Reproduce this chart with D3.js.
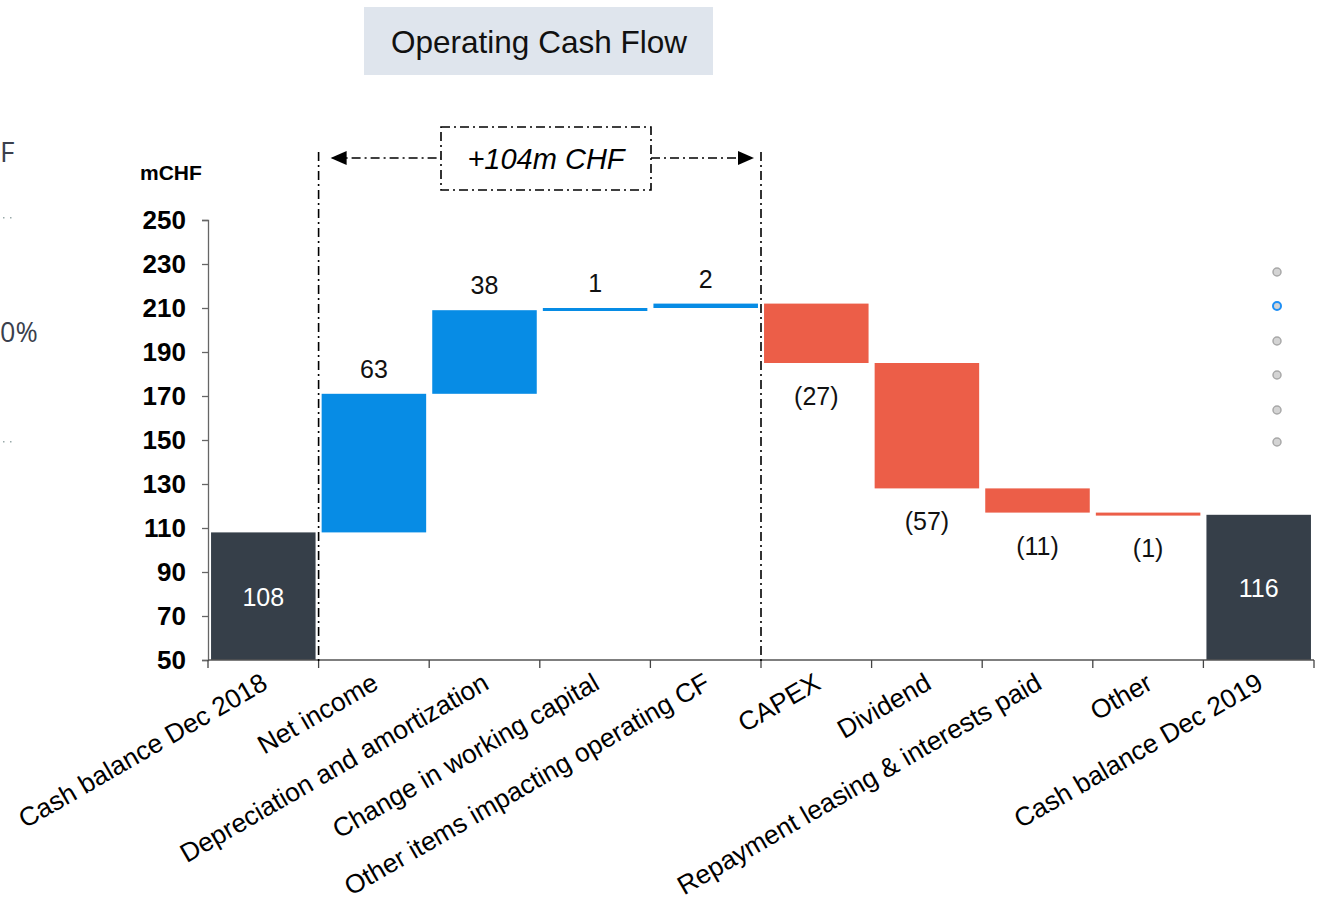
<!DOCTYPE html>
<html><head><meta charset="utf-8">
<script src="https://cdn.jsdelivr.net/npm/d3@7"></script>
<style>
html,body{margin:0;padding:0;background:#fff;}
svg{display:block;font-family:"Liberation Sans",Arial,sans-serif;}
</style></head>
<body>
<svg id="c" width="1317" height="907"></svg>
<script>
const categories = ["Cash balance Dec 2018","Net income","Depreciation and amortization","Change in working capital","Other items impacting operating CF","CAPEX","Dividend","Repayment leasing & interests paid","Other","Cash balance Dec 2019"];
const values = [108, 63, 38, 1, 2, -27, -57, -11, -1, 116];
const kinds = ["total","delta","delta","delta","delta","delta","delta","delta","delta","total"];
const yTicks = [50,70,90,110,130,150,170,190,210,230,250];
const title = "Operating Cash Flow";
const unitLabel = "mCHF";
const bracketLabel = "+104m CHF";
const bracketFrom = "Net income", bracketTo = "Other items impacting operating CF";
const sideTexts = ["F", "0%"];

(function(){
const svg = d3.select("#c");
const pL = 208, pR = 1314, pT = 220, pB = 660;

const x = d3.scaleBand().domain(categories).range([pL, pR]).paddingInner(0.055).paddingOuter(0.0275);
const y = d3.scaleLinear().domain([50, 250]).range([pB, pT]);
const step = x.step();
const edge = c => x(c) - step * 0.0275;

let run = 0;
const bars = categories.map((c, i) => {
  const v = values[i];
  let y0, y1;
  if (kinds[i] === "total") { y0 = 50; y1 = v; run = v; }
  else { y0 = run; y1 = run + v; run = y1; }
  return {c, v, kind: kinds[i], lo: Math.min(y0, y1), hi: Math.max(y0, y1)};
});
const colors = {total: "#363f49", pos: "#078ce5", neg: "#ec5e48"};

const tb = svg.append("g");
tb.append("rect").attr("x", 364).attr("y", 7).attr("width", 349).attr("height", 68).attr("fill", "#dfe5ed");
tb.append("text").attr("x", 539).attr("y", 53).attr("text-anchor", "middle").attr("font-size", 31.5).attr("fill", "#111").text(title);

svg.append("text").attr("x", 0).attr("y", 162).attr("font-family", "Open Sans, sans-serif").attr("font-size", 28).attr("fill", "#3a3f4d").text(sideTexts[0]);
svg.append("text").attr("x", 0).attr("y", 342).attr("font-family", "Open Sans, sans-serif").attr("font-size", 27).attr("fill", "#3a3f4d").text(sideTexts[1]);
[217, 441].forEach(yy => {
  [3, 10].forEach(xx => svg.append("rect").attr("x", xx).attr("y", yy).attr("width", 1.5).attr("height", 1.5).attr("fill", "#9aa"));
});

[272, 306, 341, 375, 410, 442].forEach((cy, i) => {
  svg.append("circle").attr("cx", 1277).attr("cy", cy).attr("r", 4)
    .attr("fill", "#d4d4d4").attr("stroke", i === 1 ? "#1e8ff5" : "#a8a8a8").attr("stroke-width", i === 1 ? 2 : 1.5);
});

const ya = svg.append("g").attr("transform", `translate(${pL},0)`)
  .call(d3.axisLeft(y).tickValues(yTicks).tickSize(6).tickPadding(16).tickFormat(d3.format("d")));
ya.select(".domain").attr("stroke", "#666").attr("stroke-width", 1.3);
ya.selectAll(".tick line").attr("stroke", "#666").attr("stroke-width", 1.3);
ya.selectAll(".tick text").attr("font-size", 26).attr("font-weight", "bold").attr("fill", "#000").attr("font-family", "Liberation Sans, Arial, sans-serif");
svg.append("text").attr("x", 140).attr("y", 180).attr("font-size", 21).attr("font-weight", "bold").text(unitLabel);

svg.append("g").selectAll("rect").data(bars).join("rect")
  .attr("x", d => x(d.c)).attr("width", x.bandwidth())
  .attr("y", d => y(d.hi)).attr("height", d => Math.max(3, y(d.lo) - y(d.hi)))
  .attr("fill", d => d.kind === "total" ? colors.total : (d.v >= 0 ? colors.pos : colors.neg));

const xa = svg.append("g");
xa.append("line").attr("x1", pL).attr("x2", pR).attr("y1", pB).attr("y2", pB).attr("stroke", "#555").attr("stroke-width", 1.3);
const edges = categories.map(edge).concat([pR]);
xa.selectAll("line.t").data(edges).join("line").attr("class", "t")
  .attr("x1", d => d).attr("x2", d => d).attr("y1", pB).attr("y2", pB + 8).attr("stroke", "#444").attr("stroke-width", 1.3);
xa.selectAll("text").data(categories).join("text")
  .attr("transform", c => `translate(${x(c) + x.bandwidth() / 2 + 6},${pB + 28}) rotate(-30)`)
  .attr("text-anchor", "end").attr("font-size", 26.4).attr("fill", "#000").text(c => c);

svg.append("g").selectAll("text").data(bars).join("text")
  .attr("x", d => x(d.c) + x.bandwidth() / 2)
  .attr("y", d => d.kind === "total" ? (y(d.hi) + y(d.lo)) / 2 + 10 : (d.v >= 0 ? y(d.hi) - 16 : y(d.lo) + 42))
  .attr("text-anchor", "middle").attr("font-size", 25)
  .attr("fill", d => d.kind === "total" ? "#fff" : "#111")
  .text(d => d.kind === "total" ? d.v : (d.v >= 0 ? d.v : `(${-d.v})`));

const dash = "9,4,2,4";
const xL = edge(bracketFrom), xR = edge(bracketTo) + step;
const br = svg.append("g").attr("stroke", "#000").attr("stroke-width", 1.6).attr("fill", "none");
[xL, xR].forEach(xx => br.append("line").attr("x1", xx).attr("x2", xx).attr("y1", 152).attr("y2", pB + 4).attr("stroke-dasharray", dash));
const ay = 158, bx0 = 441, bx1 = 651;
br.append("line").attr("x1", xL + 14).attr("x2", bx0).attr("y1", ay).attr("y2", ay).attr("stroke-dasharray", dash);
br.append("line").attr("x1", bx1).attr("x2", xR - 14).attr("y1", ay).attr("y2", ay).attr("stroke-dasharray", dash);
br.append("rect").attr("x", bx0).attr("y", 127).attr("width", bx1 - bx0).attr("height", 63).attr("stroke-dasharray", dash);
svg.append("path").attr("d", `M${xL + 12},${ay} L${xL + 28},${ay - 7} L${xL + 28},${ay + 7} Z`).attr("fill", "#000");
svg.append("path").attr("d", `M${xR - 7},${ay} L${xR - 23},${ay - 7} L${xR - 23},${ay + 7} Z`).attr("fill", "#000");
svg.append("text").attr("x", (bx0 + bx1) / 2).attr("y", 169).attr("text-anchor", "middle").attr("font-size", 29).attr("font-style", "italic").attr("fill", "#000").text(bracketLabel);
})();
</script>
</body></html>
